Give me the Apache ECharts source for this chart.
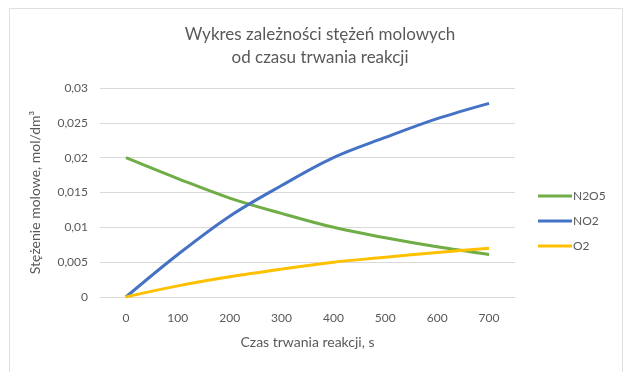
<!DOCTYPE html>
<html><head><meta charset="utf-8">
<script src="https://cdn.jsdelivr.net/npm/echarts@6/dist/echarts.min.js"></script>
<style>html,body{margin:0;padding:0;background:#fff}#c{width:640px;height:384px}</style>
</head><body><div id="c"></div>
<script>
const categories = ['0','100','200','300','400','500','600','700'];
const n2o5 = [0.0200, 0.0170, 0.0142, 0.0120, 0.0100, 0.0085, 0.0072, 0.0061];
const no2  = [0.0000, 0.0061, 0.0116, 0.0160, 0.0200, 0.0229, 0.0256, 0.0278];
const o2   = [0.0000, 0.0016, 0.0029, 0.0040, 0.0050, 0.0057, 0.0064, 0.0070];
const seriesNames = ['N2O5','NO2','O2'];
const colors = ['#70AD47','#4472C4','#FFC000'];
const font = 'Lato, "Open Sans", sans-serif';
const chart = echarts.init(document.getElementById('c'));
const mk = (name, data, color) => ({
  name, type:'line', data, smooth:0.35, showSymbol:false, symbol:'none',
  lineStyle:{width:3, color}, itemStyle:{color}
});
chart.setOption({
  animation:false,
  backgroundColor:'#fff',
  textStyle:{fontFamily:font},
  graphic:[{type:'polyline', shape:{points:[[9.5,372],[9.5,8.5],[622.5,8.5],[622.5,372]]}, style:{fill:'none', stroke:'#DEDEDE', lineWidth:1}, silent:true}],
  title:{
    text:'Wykres zależności stężeń molowych\nod czasu trwania reakcji',
    left:'center', top:18,
    textStyle:{fontFamily:font, fontSize:17, fontWeight:'normal', color:'#595959', lineHeight:23}
  },
  legend:{
    orient:'vertical', left:533, top:185, itemGap:13,
    itemWidth:34, itemHeight:3, icon:'rect',
    textStyle:{fontFamily:font, fontSize:12, color:'#595959', padding:[0,0,0,-4]},
    data:seriesNames
  },
  grid:{left:100, right:125, top:88, bottom:87},
  xAxis:{
    type:'category', data:categories, boundaryGap:true,
    name:'Czas trwania reakcji, s', nameLocation:'middle', nameGap:38,
    nameTextStyle:{fontFamily:font, fontSize:14, color:'#595959'},
    axisLine:{lineStyle:{color:'#D9D9D9'}}, axisTick:{show:false},
    axisLabel:{fontFamily:font, fontSize:12, color:'#595959', margin:15}
  },
  yAxis:{
    type:'value', min:0, max:0.03, interval:0.005,
    name:'Stężenie molowe, mol/dm³', nameLocation:'middle', nameGap:58,
    nameTextStyle:{fontFamily:font, fontSize:14, color:'#595959'},
    axisLine:{show:false}, axisTick:{show:false},
    splitLine:{lineStyle:{color:'#D9D9D9', width:1}},
    axisLabel:{fontFamily:font, fontSize:12, color:'#595959', margin:12,
      formatter:v=>String(+v.toFixed(4)).replace('.',',')}
  },
  series:[mk(seriesNames[0], n2o5, colors[0]), mk(seriesNames[1], no2, colors[1]), mk(seriesNames[2], o2, colors[2])]
});
</script></body></html>
